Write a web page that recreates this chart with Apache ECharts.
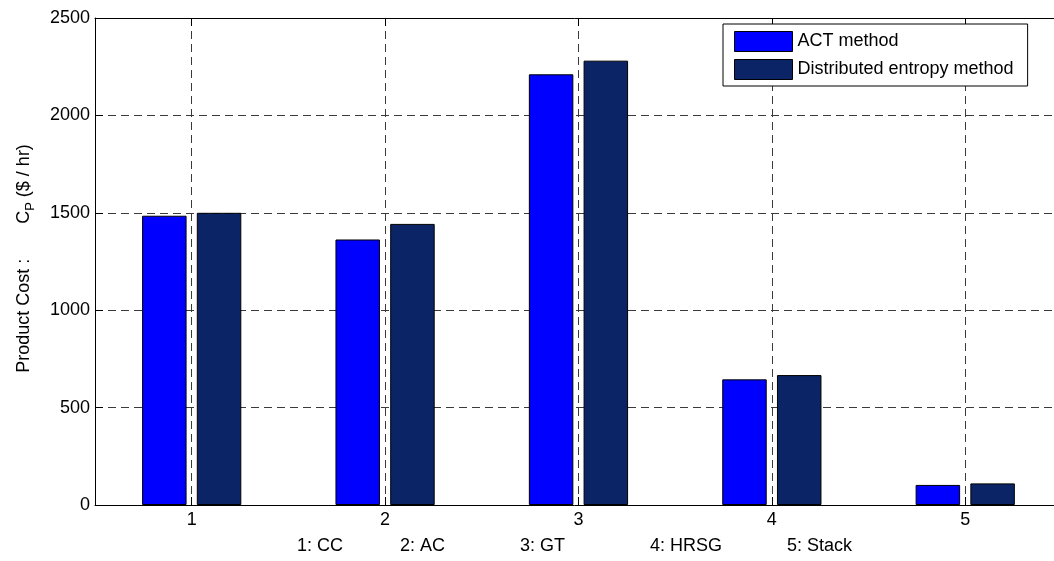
<!DOCTYPE html>
<html><head><meta charset="utf-8">
<script src="https://cdn.jsdelivr.net/npm/echarts@6/dist/echarts.min.js"></script>
<style>html,body{margin:0;padding:0;background:#fff}#c{width:1054px;height:561px}</style>
</head><body><div id="c"></div>
<script>
// ---- data ----
const positions = [1, 2, 3, 4, 5];
const actMethod = [1485, 1363, 2211, 645, 103];
const distEntropy = [1500, 1443, 2281, 667, 111];
const seriesNames = ['ACT method', 'Distributed entropy method'];
const componentLabels = ['1: CC', '2: AC', '3: GT', '4: HRSG', '5: Stack'];
const yTicks = [0, 500, 1000, 1500, 2000, 2500];

// ---- layout ----
const FONT = 'Liberation Sans, Arial, sans-serif';
const labelX = [297, 400, 520, 650, 787];
const labelY = 547;
const xMin = 0.5;
const xMax = 5.459; // plot box is cropped at the right edge of the picture

const chart = echarts.init(document.getElementById('c'));
const gridDash = { color: '#3a3a3a', width: 1, type: [8, 5] };

const option = {
  animation: false,
  backgroundColor: '#fff',
  grid: { left: 95, top: 18, right: 0, height: 487, containLabel: false },
  legend: {
    orient: 'vertical',
    left: 723, top: 24,
    padding: [7, 14, 6, 11],
    itemGap: 7,
    itemWidth: 58, itemHeight: 20,
    icon: 'rect',
    backgroundColor: '#fff',
    borderColor: '#000', borderWidth: 1, borderRadius: 0,
    textStyle: { fontFamily: FONT, fontSize: 18, color: '#000' },
    itemStyle: { borderColor: '#000', borderWidth: 1 },
    data: seriesNames
  },
  xAxis: [{
    type: 'value', position: 'bottom',
    min: xMin, max: xMax,
    splitNumber: 5,
    axisLine: { show: true, onZero: false, lineStyle: { color: '#000', width: 1 } },
    axisTick: { show: true, inside: true, length: 8, lineStyle: { color: '#000' } },
    axisLabel: { show: true, margin: 6, showMinLabel: false, showMaxLabel: false,
      fontFamily: FONT, fontSize: 18, color: '#000', formatter: v => String(v) },
    splitLine: { show: true, lineStyle: gridDash }
  }, {
    type: 'value', position: 'top',
    min: xMin, max: xMax,
    splitNumber: 5,
    axisLine: { show: true, onZero: false, lineStyle: { color: '#000', width: 1 } },
    axisTick: { show: true, inside: true, length: 8, lineStyle: { color: '#000' } },
    axisLabel: { show: false },
    splitLine: { show: false }
  }],
  yAxis: {
    type: 'value',
    min: yTicks[0], max: yTicks[yTicks.length - 1], interval: yTicks[1] - yTicks[0],
    axisLine: { show: true, lineStyle: { color: '#000', width: 1 } },
    axisTick: { show: true, inside: true, length: 8, lineStyle: { color: '#000' } },
    axisLabel: { margin: 5, fontFamily: FONT, fontSize: 18, color: '#000', formatter: v => String(v) },
    splitLine: { show: true, lineStyle: gridDash },
    name: '{a|Product Cost :       C}{sub|P}{a| ($ / hr)}',
    nameLocation: 'middle', nameRotate: 90, nameGap: 58,
    nameTextStyle: {
      fontFamily: FONT, fontSize: 18, color: '#000',
      padding: [0, 0, 0, 6],
      rich: {
        a: { fontFamily: FONT, fontSize: 18, color: '#000', lineHeight: 26, verticalAlign: 'middle' },
        sub: { fontFamily: FONT, fontSize: 13, color: '#000', lineHeight: 13, verticalAlign: 'bottom' }
      }
    }
  },
  series: [{
    name: seriesNames[0], type: 'bar',
    xAxisIndex: 0,
    data: positions.map((p, i) => [p, actMethod[i]]),
    barWidth: 44.5, barGap: '23%',
    itemStyle: { color: '#0000ff', borderColor: '#000', borderWidth: 1 },
    z: 3
  }, {
    name: seriesNames[1], type: 'bar',
    xAxisIndex: 0,
    data: positions.map((p, i) => [p, distEntropy[i]]),
    barWidth: 44.5, barGap: '23%',
    itemStyle: { color: '#0b2466', borderColor: '#000', borderWidth: 1 },
    z: 3
  }],
  graphic: componentLabels.map((t, i) => ({
    type: 'text', left: labelX[i], top: labelY - 10,
    style: { text: t, fontFamily: FONT, fontSize: 18, fill: '#000' }
  }))
};
chart.setOption(option);
</script>
</body></html>
